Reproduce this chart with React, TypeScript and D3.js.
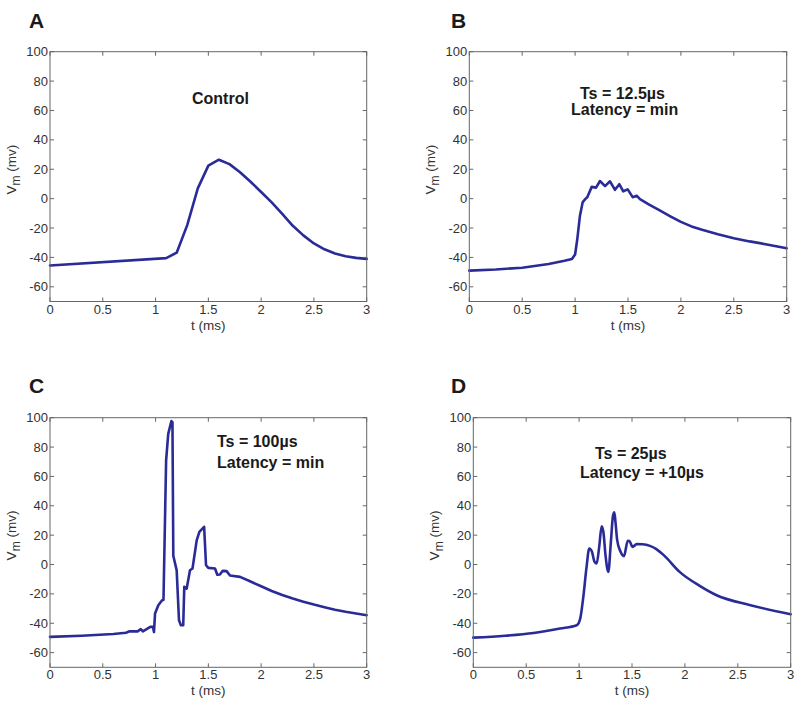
import React from 'react';
import * as d3 from 'd3';

// ---------- data ----------
const xTicks = [0, 0.5, 1, 1.5, 2, 2.5, 3];
const xTickLabels = ['0', '0.5', '1', '1.5', '2', '2.5', '3'];
const yTicks = [-60, -40, -20, 0, 20, 40, 60, 80, 100];
const yTickLabels = ['-60', '-40', '-20', '0', '20', '40', '60', '80', '100'];

const tA = [0, 1.1, 1.2, 1.3, 1.4, 1.5, 1.6, 1.7, 1.8, 1.9, 2.0, 2.1, 2.2, 2.3, 2.4, 2.5, 2.6, 2.7, 2.8, 2.9, 3.0];
const vA = [-45.5, -40.5, -36.8, -18, 7, 22.5, 26.5, 23.5, 18, 11.5, 4.5, -2.5, -10.3, -18.5, -25, -30.5, -34.5, -37.3, -39.2, -40.3, -41];

const tB = [0, 0.25, 0.5, 0.75, 0.9, 0.97, 1.0, 1.02, 1.045, 1.072, 1.1, 1.115, 1.157, 1.198, 1.235, 1.283, 1.33, 1.377, 1.418, 1.455, 1.497, 1.544, 1.582, 1.613, 1.7, 1.8, 1.9, 2.0, 2.1, 2.2, 2.35, 2.5, 2.65, 2.8, 2.9, 3.0];
const vB = [-49, -48.2, -47, -44.5, -42.3, -41, -38, -28, -12, -2.3, 0, 1, 8, 7.5, 12, 8.5, 11.8, 6, 9.8, 5, 6.3, 1, 2, -0.3, -4, -8, -12, -15.8, -18.9, -21.2, -24.3, -26.9, -29.1, -31, -32.4, -33.8];

const tC = [0, 0.3, 0.6, 0.72, 0.75, 0.83, 0.86, 0.88, 0.95, 0.975, 0.985, 0.995, 1.026, 1.06, 1.075, 1.1, 1.12, 1.15, 1.16, 1.168, 1.2, 1.222, 1.24, 1.262, 1.272, 1.295, 1.326, 1.35, 1.39, 1.415, 1.46, 1.478, 1.5, 1.563, 1.585, 1.61, 1.636, 1.673, 1.705, 1.8, 1.9, 2.0, 2.1, 2.2, 2.3, 2.4, 2.5, 2.6, 2.7, 2.8, 2.9, 3.0];
const vC = [-49.3, -48.5, -47.3, -46.5, -45.5, -45.5, -44, -45.5, -42.5, -42.5, -46, -33.4, -27.7, -24.5, -24, 71, 89, 97.7, 97, 6, -4, -38, -41.4, -41.4, -15.2, -16.4, -3.9, -2.7, 16.6, 22.3, 25.7, -0.5, -2.3, -2.7, -7, -6.8, -4.3, -4.5, -7.5, -8.4, -11.6, -14.8, -18, -20.8, -23.2, -25.3, -27.3, -29.1, -30.8, -32.2, -33.4, -34.5];

const tD = [0, 0.3, 0.57, 0.82, 0.977, 1.01, 1.04, 1.07, 1.096, 1.12, 1.145, 1.166, 1.19, 1.213, 1.23, 1.25, 1.276, 1.3, 1.32, 1.333, 1.345, 1.36, 1.39, 1.424, 1.46, 1.475, 1.506, 1.544, 1.6, 1.67, 1.73, 1.8, 1.95, 2.14, 2.3, 2.62, 3.0];
const vD = [-49.8, -48.5, -46.6, -43.6, -41.4, -37, -22, -2, 10.9, 9, 2, 0.7, 12, 26, 22, 6, -5, 15, 33, 35.5, 28, 16.6, 9, 5.7, 16.1, 16, 12, 13.9, 13.8, 12.7, 10.5, 6.4, -5, -14.5, -20.9, -27.7, -33.9];

const panelLetters = ['A', 'B', 'C', 'D'];
const notesA = ['Control'];
const notesB = ['Ts = 12.5µs', 'Latency = min'];
const notesC = ['Ts = 100µs', 'Latency = min'];
const notesD = ['Ts = 25µs', 'Latency = +10µs'];

// ---------- layout ----------
const FONT = 'Arial, "Liberation Sans", Helvetica, sans-serif';
const LINE_COLOR = '#2b2b98';
const AXIS_COLOR = '#666';
const TEXT_COLOR = '#333';

type PanelProps = {
  left: number; right: number; top: number; bottom: number;
  t: number[]; v: number[]; letter: string; letterX: number; letterY: number;
  notes: string[]; notePos: [number, number][]; curve: d3.CurveFactory;
};

function Panel(p: PanelProps) {
  const x = d3.scaleLinear().domain([0, 3]).range([p.left, p.right]);
  const y = d3.scaleLinear().domain([-70, 100]).range([p.bottom, p.top]);
  const pts = p.t.map((tt, i) => [tt, p.v[i]] as [number, number]);
  const line = d3.line<[number, number]>().x(d => x(d[0])).y(d => y(d[1])).curve(p.curve);
  const tl = 4;
  const midY = (p.top + p.bottom) / 2 - 7;
  const ylx = p.left - 34;
  return (
    <g>
      <text x={p.letterX} y={p.letterY} fontFamily={FONT} fontWeight="bold" fontSize={21} fill="#1a1a1a">{p.letter}</text>
      <path d={line(pts) || ''} fill="none" stroke={LINE_COLOR} strokeWidth={2.6} strokeLinejoin="round" strokeLinecap="round" />
      <rect x={p.left} y={p.top} width={p.right - p.left} height={p.bottom - p.top} fill="none" stroke={AXIS_COLOR} strokeWidth={1} />
      {xTicks.map((tk, i) => (
        <g key={'x' + i}>
          <line x1={x(tk)} x2={x(tk)} y1={p.bottom} y2={p.bottom - tl} stroke={AXIS_COLOR} />
          <line x1={x(tk)} x2={x(tk)} y1={p.top} y2={p.top + tl} stroke={AXIS_COLOR} />
          <text x={x(tk)} y={p.bottom + 12} fontFamily={FONT} fontSize={13} fill={TEXT_COLOR} textAnchor="middle">{xTickLabels[i]}</text>
        </g>
      ))}
      {yTicks.map((tk, i) => (
        <g key={'y' + i}>
          <line x1={p.left} x2={p.left + tl} y1={y(tk)} y2={y(tk)} stroke={AXIS_COLOR} />
          <line x1={p.right} x2={p.right - tl} y1={y(tk)} y2={y(tk)} stroke={AXIS_COLOR} />
          <text x={p.left - 2} y={y(tk) + 4.5} fontFamily={FONT} fontSize={13} fill={TEXT_COLOR} textAnchor="end">{yTickLabels[i]}</text>
        </g>
      ))}
      <text x={(p.left + p.right) / 2} y={p.bottom + 28} fontFamily={FONT} fontSize={13.5} fill={TEXT_COLOR} textAnchor="middle">t (ms)</text>
      <text transform={`translate(${ylx},${midY}) rotate(-90)`} fontFamily={FONT} fontSize={13.5} fill={TEXT_COLOR} textAnchor="middle">
        V<tspan fontSize={12} dy={3.5}>m</tspan><tspan dy={-3.5}> (mv)</tspan>
      </text>
      {p.notes.map((n, i) => (
        <text key={'n' + i} x={p.notePos[i][0]} y={p.notePos[i][1]} fontFamily={FONT} fontWeight="bold" fontSize={16} fill="#1a1a1a">{n}</text>
      ))}
    </g>
  );
}

export default function App() {
  return (
    <svg width={800} height={703} style={{ position: 'absolute', left: 0, top: 0, background: '#fff' }}>
      <rect width={800} height={703} fill="#fff" />
      <Panel left={50} right={366.7} top={51.7} bottom={301.5} t={tA} v={vA} letter={panelLetters[0]} letterX={29} letterY={28}
        notes={notesA} notePos={[[192, 103.5]]} curve={d3.curveLinear} />
      <Panel left={469.3} right={786.7} top={51.7} bottom={301.5} t={tB} v={vB} letter={panelLetters[1]} letterX={451} letterY={28}
        notes={notesB} notePos={[[580, 99], [571, 115]]} curve={d3.curveLinear} />
      <Panel left={50} right={366.7} top={417.7} bottom={667.3} t={tC} v={vC} letter={panelLetters[2]} letterX={29} letterY={393}
        notes={notesC} notePos={[[217, 446.5], [217, 468]]} curve={d3.curveLinear} />
      <Panel left={473.3} right={790.7} top={417.7} bottom={667.3} t={tD} v={vD} letter={panelLetters[3]} letterX={451} letterY={393}
        notes={notesD} notePos={[[595, 459], [580, 477.5]]} curve={d3.curveMonotoneX} />
    </svg>
  );
}
